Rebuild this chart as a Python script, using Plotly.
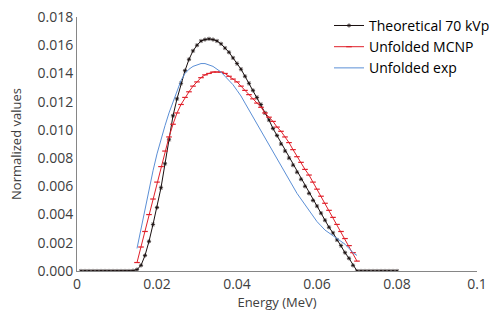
import plotly.graph_objects as go

energy_theo = [round(0.001 * i, 3) for i in range(1, 81)]
theo_vals = [0.0] * 13 + [
    0.00002, 0.0001, 0.0004, 0.0011, 0.0021, 0.0033, 0.0045, 0.0059, 0.0076, 0.0093,
    0.0110, 0.0122, 0.0133, 0.0142, 0.0150, 0.0156, 0.0160, 0.0163, 0.0164, 0.01645,
    0.0164, 0.0163, 0.0161, 0.0158, 0.0155, 0.0151, 0.0147, 0.0143, 0.0138, 0.0133,
    0.0128, 0.0123, 0.0118, 0.0112, 0.0107, 0.0101, 0.0096, 0.0090, 0.0085, 0.0080,
    0.0075, 0.0070, 0.0065, 0.0060, 0.0055, 0.0050, 0.0046, 0.0041, 0.0036, 0.0031,
    0.0027, 0.0022, 0.0018, 0.0013, 0.0009, 0.0004, 0.0000,
] + [0.0] * 10

energy_unf = [round(0.001 * i, 3) for i in range(15, 71)]
mcnp_vals = [
    0.0006, 0.0017, 0.0028, 0.0040, 0.0051, 0.0063, 0.0074, 0.0085, 0.0095, 0.0104,
    0.0112, 0.0118, 0.0123, 0.0127, 0.0131, 0.0134, 0.0137, 0.0139, 0.0140, 0.0141,
    0.0141, 0.0141, 0.0140, 0.0138, 0.0136, 0.0134, 0.0131, 0.0128, 0.0125, 0.0122,
    0.0119, 0.0116, 0.0112, 0.0109, 0.0106, 0.0102, 0.0099, 0.0095, 0.0091, 0.0086,
    0.0081, 0.0077, 0.0072, 0.0068, 0.0063, 0.0058, 0.0053, 0.0048, 0.0043, 0.0038,
    0.0033, 0.0028, 0.0023, 0.0018, 0.0013, 0.0007,
]
exp_vals = [
    0.0016, 0.0030, 0.0044, 0.0058, 0.0071, 0.0083, 0.0094, 0.0103, 0.0112, 0.0120,
    0.0128, 0.0135, 0.0140, 0.0143, 0.0145, 0.0146, 0.0147, 0.0147, 0.0146, 0.0145,
    0.0143, 0.0141, 0.0138, 0.0135, 0.0132, 0.0128, 0.0124, 0.0119, 0.0114, 0.0109,
    0.0104, 0.0099, 0.0094, 0.0089, 0.0084, 0.0079, 0.0074, 0.0069, 0.0064, 0.0059,
    0.0055, 0.0051, 0.0047, 0.0043, 0.0039, 0.0035, 0.0032, 0.0029, 0.0027, 0.0025,
    0.0023, 0.0021, 0.0019, 0.0016, 0.0013, 0.0011,
]

FONT = "Open Sans"
fig = go.Figure()
fig.add_trace(go.Scatter(
    x=energy_theo, y=theo_vals, name="Theoretical 70 kVp", mode="lines+markers",
    line=dict(color="#1a1010", width=1),
    marker=dict(symbol="asterisk-open", size=3.5, line=dict(color="#7a5858", width=0.8)),
))
fig.add_trace(go.Scatter(
    x=energy_unf, y=mcnp_vals, name="Unfolded MCNP", mode="lines+markers",
    line=dict(color="#e0202a", width=1),
    marker=dict(symbol="line-ew-open", size=4, line=dict(color="#b0101e", width=1.2)),
))
fig.add_trace(go.Scatter(
    x=energy_unf, y=exp_vals, name="Unfolded exp", mode="lines",
    line=dict(color="#5b8fd6", width=1),
))

fig.update_layout(
    width=493, height=324,
    margin=dict(l=77, r=16, t=17, b=53, autoexpand=False),
    paper_bgcolor="white", plot_bgcolor="white",
    font=dict(family=FONT, size=14, color="#404040"),
    legend=dict(x=0.63, y=1.028, xanchor="left", yanchor="top",
                font=dict(family=FONT, size=14, color="#000000"),
                bgcolor="rgba(0,0,0,0)", itemwidth=30, tracegroupgap=0),
    showlegend=True,
)
fig.update_xaxes(
    range=[0, 0.1], dtick=0.02, tick0=0, showgrid=False, zeroline=False,
    showline=True, linecolor="#868686", linewidth=1, ticks="",
    title=dict(text="Energy (MeV)", font=dict(family=FONT, size=13, color="#404040"), standoff=2),
    tickfont=dict(family=FONT, size=14, color="#404040"),
)
fig.update_yaxes(
    range=[0, 0.018], dtick=0.002, tick0=0, tickformat=".3f", showgrid=False, zeroline=False,
    showline=True, linecolor="#868686", linewidth=1, ticks="",
    title=dict(text="Normalized values", font=dict(family=FONT, size=13, color="#404040"), standoff=12),
    tickfont=dict(family=FONT, size=14, color="#404040"),
)
fig.write_html("out.html")
